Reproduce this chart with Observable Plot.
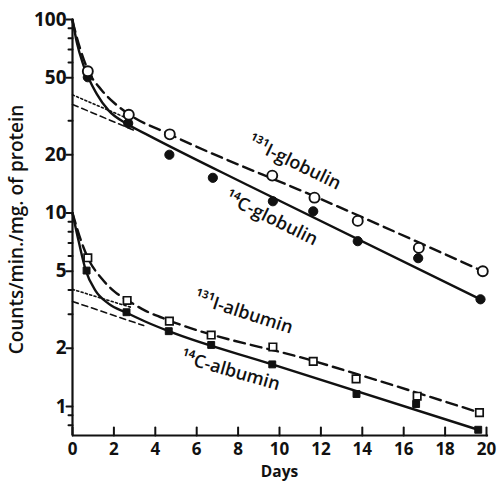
<!DOCTYPE html>
<html>
<head>
<meta charset="utf-8">
<script src="https://cdn.jsdelivr.net/npm/d3@7"></script>
<script src="https://cdn.jsdelivr.net/npm/@observablehq/plot@0.6"></script>
<style>
  html, body { margin: 0; padding: 0; background: #fff; }
  #chart { width: 498px; height: 483px; }
</style>
</head>
<body>
<div id="chart"></div>
<script>
// ---- data ----
// 131I-globulin (open circles, dashed curve)
const iGlobDays = [0.74, 2.72, 4.70, 9.65, 11.69, 13.78, 16.73, 19.82];
const iGlobVals = [54, 32.2, 25.5, 15.6, 12.0, 9.1, 6.6, 5.0];
// 14C-globulin (filled circles, solid curve)
const cGlobDays = [0.74, 2.69, 4.68, 6.78, 9.68, 11.63, 13.78, 16.70, 19.71];
const cGlobVals = [50.3, 29.1, 20.0, 15.2, 11.5, 10.2, 7.15, 5.84, 3.58];
// 131I-albumin (open squares, dashed curve)
const iAlbDays = [0.74, 2.64, 4.68, 6.70, 9.68, 11.63, 13.70, 16.65, 19.66];
const iAlbVals = [5.87, 3.53, 2.76, 2.34, 2.03, 1.71, 1.39, 1.13, 0.93];
// 14C-albumin (filled squares, solid curve)
const cAlbDays = [0.68, 2.61, 4.65, 6.70, 9.65, 13.72, 16.6, 19.6];
const cAlbVals = [5.04, 3.07, 2.45, 2.08, 1.65, 1.16, 1.03, 0.758];

// fitted curves, points
const iGlobCurveDays = [0, 0.37, 0.74, 1.42, 2.06, 2.7, 4.7, 12, 19.82];
const iGlobCurveVals = [98, 70.6, 55, 43, 36.7, 32.5, 25.5, 11.8, 5.0];
const cGlobCurveDays = [0, 0.21, 0.53, 1.17, 1.74, 2.62, 3.67, 8.6, 19.71];
const cGlobCurveVals = [100, 76, 58, 41.3, 33.9, 28.9, 25.2, 13.7, 3.58];
const iAlbCurveDays = [0, 0.45, 0.74, 1.42, 2.06, 2.67, 3.51, 4.68, 11.63, 19.66];
const iAlbCurveVals = [10, 7.0, 5.87, 4.57, 3.90, 3.53, 3.13, 2.78, 1.72, 0.93];
const cAlbCurveDays = [0, 0.29, 0.64, 1.1, 1.74, 2.61, 3.51, 4.65, 9.65, 19.6];
const cAlbCurveVals = [10, 7.2, 5.05, 3.98, 3.40, 3.05, 2.75, 2.45, 1.65, 0.758];

// extrapolated slow components
const iGlobExtDays = [0, 2.6];
const iGlobExtVals = [40.8, 31.0];
const cGlobExtDays = [0, 3.1];
const cGlobExtVals = [36.4, 26.4];
const iAlbExtDays = [0, 2.8];
const iAlbExtVals = [4.03, 3.26];
const cAlbExtDays = [0, 3.44];
const cAlbExtVals = [3.49, 2.62];

// axes
const xTicks = [0, 2, 4, 6, 8, 10, 12, 14, 16, 18, 20];
const yMajor = [100, 50, 20, 10, 5, 2, 1];
const yMinor = [90, 80, 70, 60, 30, 9, 8, 7, 6, 4, 3, 0.9, 0.8];
const yDomain = [0.708, 100];
const xDomain = [0, 20];

// series labels
const labelText = ["\u00B9\u00B3\u00B9I-globulin", "\u00B9\u2074C-globulin", "\u00B9\u00B3\u00B9I-albumin", "\u00B9\u2074C-albumin"];
const labelDay = [10.72, 9.61, 8.26, 7.63];
const labelVal = [18.2, 9.37, 3.06, 1.53];
const labelAngle = [26, 26, 18, 16];

// ---- build tables ----
const zip = (xs, ys) => xs.map((d, i) => ({day: d, v: ys[i]}));
const iGlob = zip(iGlobDays, iGlobVals), cGlob = zip(cGlobDays, cGlobVals);
const iAlb = zip(iAlbDays, iAlbVals), cAlb = zip(cAlbDays, cAlbVals);
const labels = labelText.map((t, i) => ({t, day: labelDay[i], v: labelVal[i], a: labelAngle[i]}));

const FONT = "'Open Sans', 'DejaVu Sans', sans-serif";
const ink = "#111";

// plain straight tick shape for vector marks
const tickShape = {draw(context, l) { context.moveTo(0, 0); context.lineTo(0, -l); }};

const curve = (xs, ys, extra) => Plot.line(zip(xs, ys), {x: "day", y: "v", curve: "monotone-x", stroke: ink, strokeWidth: 2.4, ...extra});

const chart = Plot.plot({
  width: 498,
  height: 483,
  marginLeft: 72,
  marginRight: 12,
  marginTop: 19,
  marginBottom: 48,
  x: {domain: xDomain, axis: null},
  y: {type: "log", domain: yDomain, axis: null},
  style: {fontFamily: FONT, background: "#fff", color: ink},
  marks: [
    // extrapolation lines
    Plot.line(zip(iGlobExtDays, iGlobExtVals), {x: "day", y: "v", stroke: ink, strokeWidth: 1.6, strokeDasharray: "2,2.5"}),
    Plot.line(zip(cGlobExtDays, cGlobExtVals), {x: "day", y: "v", stroke: ink, strokeWidth: 1.6, strokeDasharray: "6,4"}),
    Plot.line(zip(iAlbExtDays, iAlbExtVals), {x: "day", y: "v", stroke: ink, strokeWidth: 1.6, strokeDasharray: "2,2.5"}),
    Plot.line(zip(cAlbExtDays, cAlbExtVals), {x: "day", y: "v", stroke: ink, strokeWidth: 1.6, strokeDasharray: "6,4"}),
    // fitted curves
    curve(iGlobCurveDays, iGlobCurveVals, {strokeDasharray: "11,6"}),
    curve(cGlobCurveDays, cGlobCurveVals, {}),
    curve(iAlbCurveDays, iAlbCurveVals, {strokeDasharray: "11,6"}),
    curve(cAlbCurveDays, cAlbCurveVals, {}),
    // points
    Plot.dot(cGlob, {x: "day", y: "v", r: 4.6, fill: ink, stroke: ink, strokeWidth: 1}),
    Plot.dot(iGlob, {x: "day", y: "v", r: 5, fill: "#fff", stroke: ink, strokeWidth: 1.9}),
    Plot.dot(cAlb, {x: "day", y: "v", r: 3.9, symbol: "square", fill: ink, stroke: ink, strokeWidth: 1}),
    Plot.dot(iAlb, {x: "day", y: "v", r: 4.2, symbol: "square", fill: "#fff", stroke: ink, strokeWidth: 1.7}),
    // axes lines
    Plot.ruleX([0], {stroke: ink, strokeWidth: 2.2}),
    Plot.ruleY([yDomain[0]], {x1: 0, x2: 20.1, stroke: ink, strokeWidth: 2.2}),
    // x ticks (pointing up)
    Plot.vector(xTicks, {x: d => d, frameAnchor: "bottom", length: 8, rotate: 0, anchor: "start", shape: tickShape, stroke: ink, strokeWidth: 2}),
    Plot.text(xTicks, {x: d => d, text: d => String(d), frameAnchor: "bottom", lineAnchor: "middle", dy: 14, fontSize: 17, fontWeight: 700, fill: ink}),
    // y ticks
    Plot.vector(yMajor, {y: d => d, frameAnchor: "left", length: 6, rotate: -90, anchor: "start", shape: tickShape, stroke: ink, strokeWidth: 2}),
    Plot.vector(yMinor, {y: d => d, frameAnchor: "left", length: 4, rotate: -90, anchor: "start", shape: tickShape, stroke: ink, strokeWidth: 2}),
    Plot.text(yMajor, {y: d => d, text: d => String(d), frameAnchor: "left", dx: -6, textAnchor: "end", lineAnchor: "middle", fontSize: 19, fontWeight: 700, fill: ink}),
    // axis titles
    Plot.text(["Days"], {frameAnchor: "bottom", lineAnchor: "middle", textAnchor: "middle", dy: 37, fontSize: 15.5, fontWeight: 700, fill: ink}),
    Plot.text(["Counts/min./mg. of protein"], {frameAnchor: "left", textAnchor: "middle", lineAnchor: "middle", dx: -56, dy: 2, rotate: -90, fontSize: 19, fontWeight: 600, fill: ink}),
    // series labels
    Plot.text(labels, {x: "day", y: "v", text: "t", rotate: "a", fontSize: 18, fontWeight: 600, fill: ink})
  ]
});
document.getElementById("chart").appendChild(chart);
</script>
</body>
</html>
